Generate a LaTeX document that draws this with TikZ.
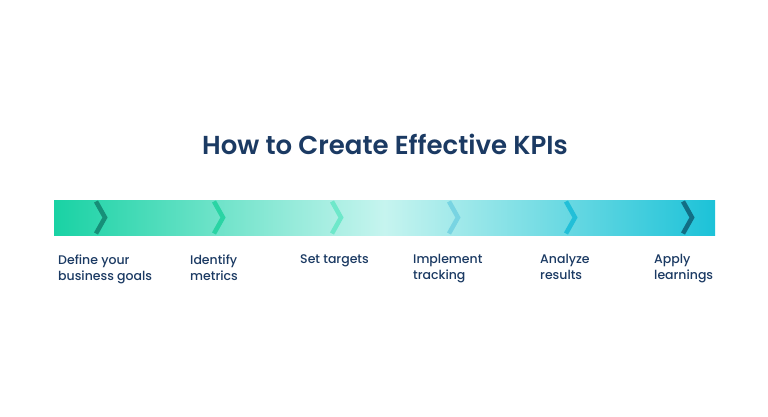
\documentclass[tikz,border=0pt]{standalone}
\usepackage{fontspec}
\setmainfont{Poppins}
\newfontfamily\popmed{Poppins Medium}
\newfontfamily\popsemi{Poppins SemiBold}
\definecolor{barL}{HTML}{19D2A4}
\definecolor{barM}{HTML}{C6F4EF}
\definecolor{barR}{HTML}{1CC2D8}
\definecolor{ch1}{HTML}{168F78}
\definecolor{ch2}{HTML}{2AD4A4}
\definecolor{ch3}{HTML}{6EE8CA}
\definecolor{ch4}{HTML}{78D4E2}
\definecolor{ch5}{HTML}{22BFD8}
\definecolor{ch6}{HTML}{126E84}
\definecolor{navy}{HTML}{1B3A63}
\pgfdeclarehorizontalshading{barshade}{100bp}{color(0bp)=(barL); color(25bp)=(barL); color(50bp)=(barM); color(75bp)=(barR); color(100bp)=(barR)}
\begin{document}
\begin{tikzpicture}[x=1pt,y=-1pt,
  lbl/.style={anchor=north west,align=left,text=navy,font=\popmed\fontsize{12.5}{16}\selectfont,inner sep=0pt},
  chev/.style={line width=4.5pt,line join=miter}]
\useasboundingbox[fill=white] (0,0) rectangle (768,416);
\node[text=navy,font=\popsemi\fontsize{26}{31}\selectfont] (title) at (385,144) {How to Create Effective KPIs};
\shade[shading=barshade] (54,200) rectangle (715,235);
\foreach \x/\c in {100/ch1,218/ch2,336/ch3,453/ch4,570/ch5,687/ch6}{
  \draw[chev,\c] (\x-4,201.5) -- (\x+5,217.5) -- (\x-4,233.5);
}
\node[lbl] (l1) at (58,254.5) {Define your\\business goals};
\node[lbl] (l2) at (190,254.5) {Identify\\metrics};
\node[lbl] (l3) at (300,254.5) {Set targets};
\node[lbl] (l4) at (413,254.5) {Implement\\tracking};
\node[lbl] (l5) at (540,254.5) {Analyze\\results};
\node[lbl] (l6) at (654,254.5) {Apply\\learnings};
\end{tikzpicture}
\end{document}
